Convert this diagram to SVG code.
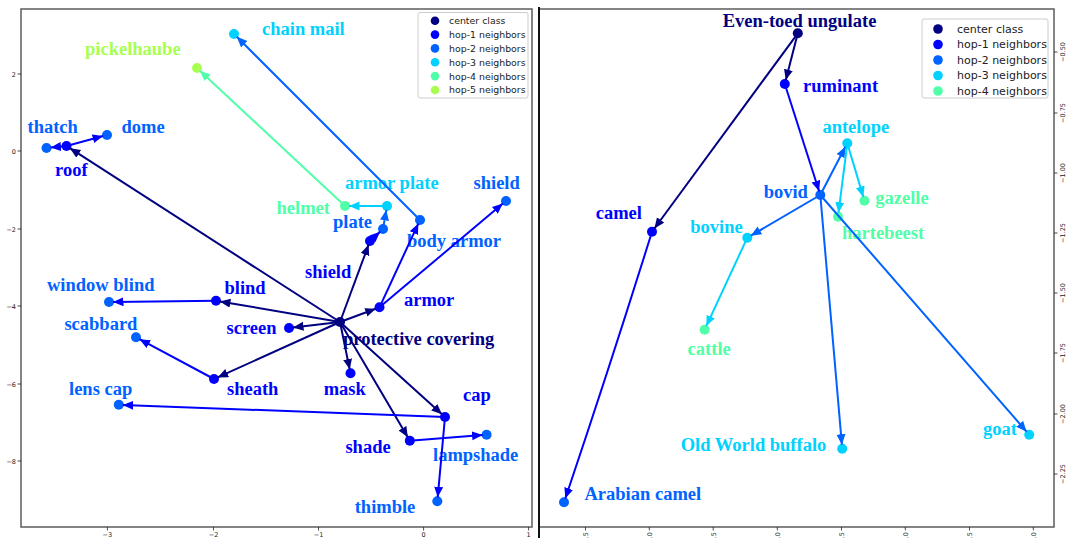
<svg xmlns="http://www.w3.org/2000/svg" width="1070" height="538" viewBox="0 0 1070 538">
<style>
.frame{fill:#fff;stroke:#666;stroke-width:1.6}
.tick{stroke:#222;stroke-width:0.8}
.tl{font-family:"DejaVu Sans",sans-serif;font-size:6.5px;fill:#222}
.lbl{font-family:"Liberation Serif",serif;font-weight:bold;font-size:18.5px}
.leg{font-family:"DejaVu Sans",sans-serif;fill:#222}
.legbox{fill:#fff;stroke:#ccc;stroke-width:1}
.e{stroke-width:2;fill:none}
.c0{fill:#000080}.c1{fill:#0000ff}.c2{fill:#0062ff}.c3{fill:#00d2ff}.c4{fill:#50ffa8}.c5{fill:#a8ff50}
.s0{stroke:#000080}.s1{stroke:#0000ff}.s2{stroke:#0062ff}.s3{stroke:#00d2ff}.s4{stroke:#50ffa8}
</style>
<defs>
<marker id="a0" markerUnits="userSpaceOnUse" markerWidth="12" markerHeight="10" refX="10.5" refY="4.5" orient="auto"><path d="M0,0 L10.5,4.5 L0,9 Z" fill="#000080"/></marker>
<marker id="a1" markerUnits="userSpaceOnUse" markerWidth="12" markerHeight="10" refX="10.5" refY="4.5" orient="auto"><path d="M0,0 L10.5,4.5 L0,9 Z" fill="#0000ff"/></marker>
<marker id="a2" markerUnits="userSpaceOnUse" markerWidth="12" markerHeight="10" refX="10.5" refY="4.5" orient="auto"><path d="M0,0 L10.5,4.5 L0,9 Z" fill="#0062ff"/></marker>
<marker id="a3" markerUnits="userSpaceOnUse" markerWidth="12" markerHeight="10" refX="10.5" refY="4.5" orient="auto"><path d="M0,0 L10.5,4.5 L0,9 Z" fill="#00d2ff"/></marker>
<marker id="a4" markerUnits="userSpaceOnUse" markerWidth="12" markerHeight="10" refX="10.5" refY="4.5" orient="auto"><path d="M0,0 L10.5,4.5 L0,9 Z" fill="#50ffa8"/></marker>
</defs>
<rect width="1070" height="538" fill="#fff"/>

<!-- LEFT PANEL -->
<g id="left-axes">
<rect class="frame" x="21" y="9" width="511" height="518"/>
<g class="tick">
<line x1="21" y1="74" x2="17.5" y2="74"/><line x1="21" y1="151" x2="17.5" y2="151"/><line x1="21" y1="229" x2="17.5" y2="229"/><line x1="21" y1="306" x2="17.5" y2="306"/><line x1="21" y1="384" x2="17.5" y2="384"/><line x1="21" y1="461" x2="17.5" y2="461"/>
<line x1="107.4" y1="527" x2="107.4" y2="530.5"/><line x1="213.5" y1="527" x2="213.5" y2="530.5"/><line x1="318.5" y1="527" x2="318.5" y2="530.5"/><line x1="423.6" y1="527" x2="423.6" y2="530.5"/><line x1="528.6" y1="527" x2="528.6" y2="530.5"/>
</g>
<g class="tl" text-anchor="end">
<text x="16" y="76.5">2</text><text x="16" y="153.5">0</text><text x="16" y="231.5">−2</text><text x="16" y="308.5">−4</text><text x="16" y="386.5">−6</text><text x="16" y="463.5">−8</text>
</g>
<g class="tl" text-anchor="middle">
<text x="107.4" y="537">−3</text><text x="213.5" y="537">−2</text><text x="318.5" y="537">−1</text><text x="423.6" y="537">0</text><text x="528.6" y="537">1</text>
</g>
</g>

<g id="left-legend">
<rect class="legbox" x="418" y="12.5" width="110" height="85.5" rx="2"/>
<circle class="c0" cx="435" cy="20.7" r="4.3"/><circle class="c1" cx="435" cy="34.6" r="4.3"/><circle class="c2" cx="435" cy="48.4" r="4.3"/><circle class="c3" cx="435" cy="62.3" r="4.3"/><circle class="c4" cx="435" cy="76.1" r="4.3"/><circle class="c5" cx="435" cy="90" r="4.3"/>
<g class="leg" font-size="9.4">
<text x="449" y="24">center class</text><text x="449" y="38">hop-1 neighbors</text><text x="449" y="51.8">hop-2 neighbors</text><text x="449" y="65.6">hop-3 neighbors</text><text x="449" y="79.5">hop-4 neighbors</text><text x="449" y="93.3">hop-5 neighbors</text>
</g>
</g>

<g id="left-nodes">
<g id="n-protective-covering"><circle class="c0" cx="340" cy="322" r="5"/><text class="lbl c0" x="343" y="345">protective covering</text></g>
<g id="n-roof"><circle class="c1" cx="66.5" cy="146" r="5"/><text class="lbl c1" x="55" y="176">roof</text></g>
<g id="n-thatch"><circle class="c2" cx="46.5" cy="148" r="5"/><text class="lbl c2" x="27.5" y="133">thatch</text></g>
<g id="n-dome"><circle class="c2" cx="107" cy="135" r="5"/><text class="lbl c2" x="121.5" y="133">dome</text></g>
<g id="n-shield-1"><circle class="c1" cx="370" cy="241" r="5"/><text class="lbl c1" x="305" y="278">shield</text></g>
<g id="n-plate"><circle class="c2" cx="383" cy="229" r="5"/><text class="lbl c2" x="333" y="228">plate</text></g>
<g id="n-armor-plate"><circle class="c3" cx="387" cy="206" r="5"/><text class="lbl c3" x="345" y="189">armor plate</text></g>
<g id="n-helmet"><circle class="c4" cx="345" cy="206" r="5"/><text class="lbl c4" x="276.5" y="214">helmet</text></g>
<g id="n-pickelhaube"><circle class="c5" cx="197" cy="68" r="5"/><text class="lbl c5" x="85" y="55">pickelhaube</text></g>
<g id="n-armor"><circle class="c1" cx="379.5" cy="307.3" r="5"/><text class="lbl c1" x="404" y="306">armor</text></g>
<g id="n-body-armor"><circle class="c2" cx="420" cy="220" r="5"/><text class="lbl c2" x="407" y="247">body armor</text></g>
<g id="n-chain-mail"><circle class="c3" cx="234" cy="34" r="5"/><text class="lbl c3" x="262" y="35">chain mail</text></g>
<g id="n-shield-2"><circle class="c2" cx="506" cy="201" r="5"/><text class="lbl c2" x="473.5" y="189">shield</text></g>
<g id="n-blind"><circle class="c1" cx="216" cy="300.7" r="5"/><text class="lbl c1" x="224.5" y="294">blind</text></g>
<g id="n-window-blind"><circle class="c2" cx="109" cy="302" r="5"/><text class="lbl c2" x="47" y="290.5">window blind</text></g>
<g id="n-screen"><circle class="c1" cx="289" cy="328" r="5"/><text class="lbl c1" x="226.5" y="333.5">screen</text></g>
<g id="n-sheath"><circle class="c1" cx="214" cy="379" r="5"/><text class="lbl c1" x="227" y="394.5">sheath</text></g>
<g id="n-scabbard"><circle class="c2" cx="136" cy="337.3" r="5"/><text class="lbl c2" x="64.4" y="329.7">scabbard</text></g>
<g id="n-mask"><circle class="c1" cx="350.5" cy="373.3" r="5"/><text class="lbl c1" x="323.7" y="394.5">mask</text></g>
<g id="n-cap"><circle class="c1" cx="445" cy="417" r="5"/><text class="lbl c1" x="463" y="401.3">cap</text></g>
<g id="n-lens-cap"><circle class="c2" cx="118.8" cy="404.7" r="5"/><text class="lbl c2" x="69" y="394.5">lens cap</text></g>
<g id="n-thimble"><circle class="c2" cx="437.3" cy="501.3" r="5"/><text class="lbl c2" x="354.7" y="513">thimble</text></g>
<g id="n-shade"><circle class="c1" cx="409.8" cy="440.7" r="5"/><text class="lbl c1" x="345.4" y="453">shade</text></g>
<g id="n-lampshade"><circle class="c2" cx="486.6" cy="434.7" r="5"/><text class="lbl c2" x="433" y="460.7">lampshade</text></g>
</g>

<g id="left-connectors">
<g class="e s0">
<line x1="340" y1="322" x2="69.9" y2="148.2" marker-end="url(#a0)"/>
<line x1="340" y1="322" x2="368.6" y2="244.7" marker-end="url(#a0)"/>
<line x1="340" y1="322" x2="375.7" y2="308.7" marker-end="url(#a0)"/>
<line x1="340" y1="322" x2="219.9" y2="301.4" marker-end="url(#a0)"/>
<line x1="340" y1="322" x2="293" y2="327.5" marker-end="url(#a0)"/>
<line x1="340" y1="322" x2="217.6" y2="377.4" marker-end="url(#a0)"/>
<line x1="340" y1="322" x2="349.7" y2="369.4" marker-end="url(#a0)"/>
<line x1="340" y1="322" x2="442" y2="414.3" marker-end="url(#a0)"/>
<line x1="340" y1="322" x2="407.8" y2="437.3" marker-end="url(#a0)"/>
</g>
<g class="e s1">
<line x1="66.5" y1="146" x2="50.5" y2="147.6" marker-end="url(#a1)"/>
<line x1="66.5" y1="146" x2="103.1" y2="136" marker-end="url(#a1)"/>
<line x1="370" y1="241" x2="380.1" y2="231.7" marker-end="url(#a1)"/>
<line x1="379.5" y1="307.3" x2="418.3" y2="223.6" marker-end="url(#a1)"/>
<line x1="379.5" y1="307.3" x2="502.9" y2="203.6" marker-end="url(#a1)"/>
<line x1="216" y1="300.7" x2="113" y2="302" marker-end="url(#a1)"/>
<line x1="214" y1="379" x2="139.5" y2="339.2" marker-end="url(#a1)"/>
<line x1="445" y1="417" x2="122.8" y2="404.9" marker-end="url(#a1)"/>
<line x1="445" y1="417" x2="437.7" y2="497.3" marker-end="url(#a1)"/>
<line x1="409.8" y1="440.7" x2="482.6" y2="435" marker-end="url(#a1)"/>
</g>
<g class="e s2">
<line x1="383" y1="229" x2="386.3" y2="209.9" marker-end="url(#a2)"/>
<line x1="420" y1="220" x2="236.8" y2="36.8" marker-end="url(#a2)"/>
</g>
<line class="e s3" x1="387" y1="206" x2="349" y2="206" marker-end="url(#a3)"/>
<line class="e s4" x1="345" y1="206" x2="199.9" y2="70.7" marker-end="url(#a4)"/>
</g>

<!-- RIGHT PANEL -->
<g id="right-axes">
<rect class="frame" x="539" y="9" width="515" height="518"/>
<line x1="539" y1="7" x2="539" y2="538" stroke="#111" stroke-width="2"/>
<g class="tick">
<line x1="1054" y1="52" x2="1057.5" y2="52"/><line x1="1054" y1="113" x2="1057.5" y2="113"/><line x1="1054" y1="173" x2="1057.5" y2="173"/><line x1="1054" y1="233" x2="1057.5" y2="233"/><line x1="1054" y1="293" x2="1057.5" y2="293"/><line x1="1054" y1="353" x2="1057.5" y2="353"/><line x1="1054" y1="414" x2="1057.5" y2="414"/><line x1="1054" y1="474" x2="1057.5" y2="474"/>
<line x1="585.5" y1="527" x2="585.5" y2="530.5"/><line x1="649.3" y1="527" x2="649.3" y2="530.5"/><line x1="713.2" y1="527" x2="713.2" y2="530.5"/><line x1="777.3" y1="527" x2="777.3" y2="530.5"/><line x1="841.5" y1="527" x2="841.5" y2="530.5"/><line x1="905.3" y1="527" x2="905.3" y2="530.5"/><line x1="969.5" y1="527" x2="969.5" y2="530.5"/><line x1="1033.3" y1="527" x2="1033.3" y2="530.5"/>
</g>
<g class="tl" text-anchor="middle">
<text transform="translate(1065,52) rotate(-90)">−0.50</text>
<text transform="translate(1065,113) rotate(-90)">−0.75</text>
<text transform="translate(1065,173) rotate(-90)">−1.00</text>
<text transform="translate(1065,233) rotate(-90)">−1.25</text>
<text transform="translate(1065,293) rotate(-90)">−1.50</text>
<text transform="translate(1065,353) rotate(-90)">−1.75</text>
<text transform="translate(1065,414) rotate(-90)">−2.00</text>
<text transform="translate(1065,474) rotate(-90)">−2.25</text>
</g>
<g class="tl" text-anchor="end">
<text transform="translate(587.8,532) rotate(-90)">−1.5</text>
<text transform="translate(651.6,532) rotate(-90)">−1.0</text>
<text transform="translate(715.5,532) rotate(-90)">−0.5</text>
<text transform="translate(779.6,532) rotate(-90)">0.0</text>
<text transform="translate(843.8,532) rotate(-90)">0.5</text>
<text transform="translate(907.6,532) rotate(-90)">1.0</text>
<text transform="translate(971.8,532) rotate(-90)">1.5</text>
<text transform="translate(1035.6,532) rotate(-90)">2.0</text>
</g>
</g>

<g id="right-legend">
<rect class="legbox" x="922" y="19" width="126" height="79" rx="2"/>
<circle class="c0" cx="938" cy="29" r="4.8"/><circle class="c1" cx="938" cy="44.5" r="4.8"/><circle class="c2" cx="938" cy="60" r="4.8"/><circle class="c3" cx="938" cy="75.5" r="4.8"/><circle class="c4" cx="938" cy="91" r="4.8"/>
<g class="leg" font-size="11">
<text x="957" y="32.8">center class</text><text x="957" y="48.3">hop-1 neighbors</text><text x="957" y="63.8">hop-2 neighbors</text><text x="957" y="79.3">hop-3 neighbors</text><text x="957" y="94.8">hop-4 neighbors</text>
</g>
</g>

<g id="right-nodes">
<g id="n-even-toed-ungulate"><circle class="c0" cx="797.8" cy="33.3" r="5"/><text class="lbl c0" x="722.7" y="26.7">Even-toed ungulate</text></g>
<g id="n-ruminant"><circle class="c1" cx="784.8" cy="84" r="5"/><text class="lbl c1" x="803" y="92.3">ruminant</text></g>
<g id="n-camel"><circle class="c1" cx="652" cy="231.7" r="5"/><text class="lbl c1" x="595.7" y="219.3">camel</text></g>
<g id="n-arabian-camel"><circle class="c2" cx="564" cy="502.3" r="5"/><text class="lbl c2" x="584.5" y="499.7">Arabian camel</text></g>
<g id="n-bovid"><circle class="c2" cx="820.3" cy="195" r="5"/><text class="lbl c2" x="763.7" y="197.7">bovid</text></g>
<g id="n-antelope"><circle class="c3" cx="847.3" cy="143.3" r="5"/><text class="lbl c3" x="822.4" y="132.7">antelope</text></g>
<g id="n-gazelle"><circle class="c4" cx="864.4" cy="200.7" r="5"/><text class="lbl c4" x="875.3" y="204.3">gazelle</text></g>
<g id="n-hartebeest"><circle class="c4" cx="838" cy="216.7" r="5"/><text class="lbl c4" x="842" y="239.3">hartebeest</text></g>
<g id="n-bovine"><circle class="c3" cx="747.3" cy="237.7" r="5"/><text class="lbl c3" x="690.3" y="233.3">bovine</text></g>
<g id="n-cattle"><circle class="c4" cx="704.6" cy="329.7" r="5"/><text class="lbl c4" x="687.6" y="354.7">cattle</text></g>
<g id="n-old-world-buffalo"><circle class="c3" cx="842.2" cy="448.7" r="5"/><text class="lbl c3" x="680.7" y="451.3">Old World buffalo</text></g>
<g id="n-goat"><circle class="c3" cx="1029.2" cy="434.7" r="5"/><text class="lbl c3" x="983" y="434.7">goat</text></g>
</g>

<g id="right-connectors">
<g class="e s0">
<line x1="797.8" y1="33.3" x2="785.8" y2="80.1" marker-end="url(#a0)"/>
<line x1="797.8" y1="33.3" x2="654.4" y2="228.5" marker-end="url(#a0)"/>
</g>
<g class="e s1">
<line x1="784.8" y1="84" x2="819.1" y2="191.2" marker-end="url(#a1)"/>
<path d="M652,231.7 Q612,360 565.3,498.5" marker-end="url(#a1)"/>
</g>
<g class="e s2">
<line x1="820.3" y1="195" x2="845.4" y2="146.8" marker-end="url(#a2)"/>
<line x1="820.3" y1="195" x2="750.8" y2="235.7" marker-end="url(#a2)"/>
<line x1="820.3" y1="195" x2="841.9" y2="444.7" marker-end="url(#a2)"/>
<line x1="820.3" y1="195" x2="1026.6" y2="431.7" marker-end="url(#a2)"/>
</g>
<g class="e s3">
<line x1="847.3" y1="143.3" x2="863.3" y2="196.9" marker-end="url(#a3)"/>
<line x1="847.3" y1="143.3" x2="838.5" y2="212.7" marker-end="url(#a3)"/>
<line x1="747.3" y1="237.7" x2="706.3" y2="326.1" marker-end="url(#a3)"/>
</g>
</g>
</svg>
